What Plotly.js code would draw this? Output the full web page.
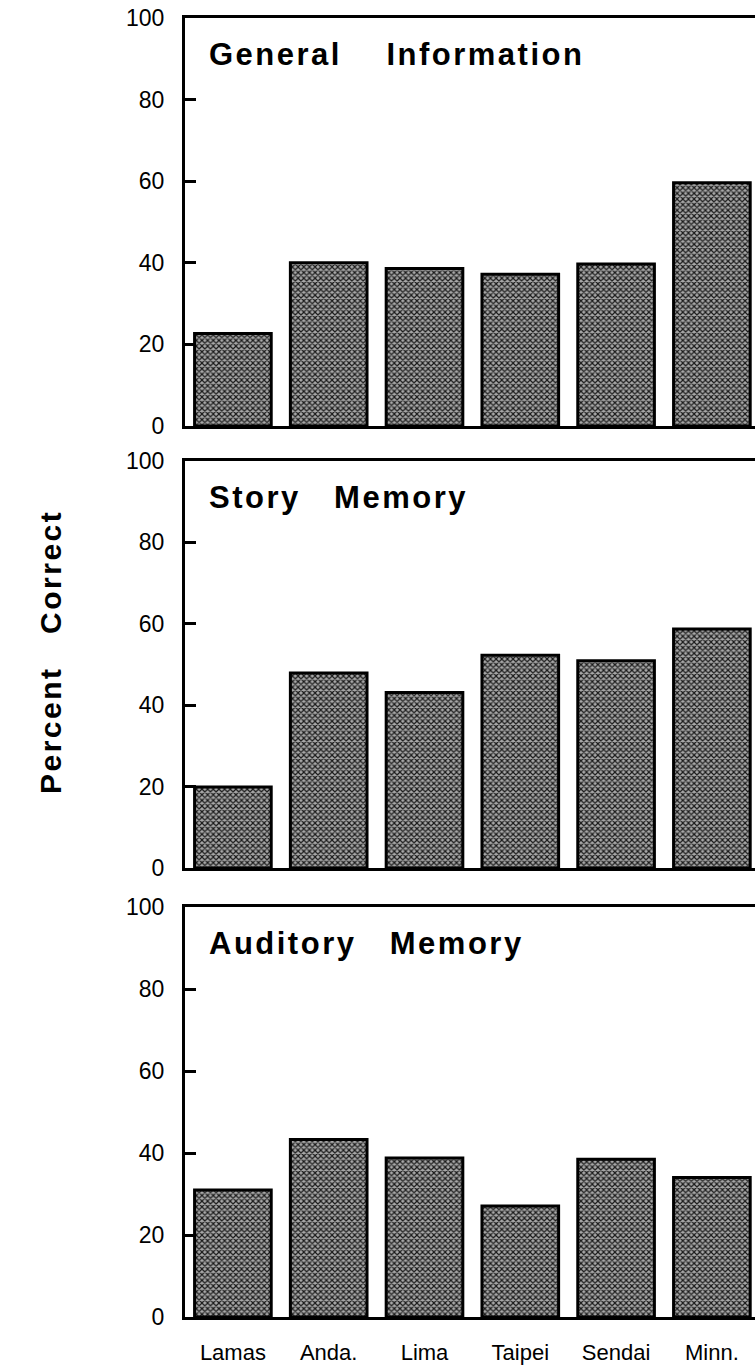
<!DOCTYPE html>
<html><head><meta charset="utf-8">
<script src="https://cdn.plot.ly/plotly-3.0.1.min.js"></script>
<style>
html,body{margin:0;padding:0;background:#fff;overflow:hidden}
.annotation-text{letter-spacing:2.5px}
</style></head>
<body><div id="chart" style="width:756px;height:1368px"></div>
<script>
const categories = ['Lamas', 'Anda.', 'Lima', 'Taipei', 'Sendai', 'Minn.'];
const generalInformation = [22.7, 40.0, 38.6, 37.2, 39.7, 59.6];
const storyMemory = [19.9, 47.9, 43.1, 52.3, 50.9, 58.7];
const auditoryMemory = [31.0, 43.3, 38.8, 27.1, 38.5, 34.0];
const panelTitles = ['General Information', 'Story Memory', 'Auditory Memory'];
const titleGaps = [4, 3, 3];
const yTickVals = [0, 20, 40, 60, 80, 100];
const yTickText = ['0', '20', '40', '60', '80', '100'];
const yAxisTitle = 'Percent Correct';

const series = [generalInformation, storyMemory, auditoryMemory];
const H = 1368;
const panelsPx = [[18, 426], [461, 868], [907, 1317]];

const barMarker = {
  color: '#9a9a9a',
  line: {color: '#000', width: 3},
  pattern: {shape: 'x', size: 4, solidity: 0.5, fgcolor: '#1a1a1a', bgcolor: '#a8a8a8', fillmode: 'replace'}
};

const traces = series.map((vals, i) => ({
  type: 'bar',
  x: categories,
  y: vals,
  xaxis: i === 0 ? 'x' : 'x' + (i + 1),
  yaxis: i === 0 ? 'y' : 'y' + (i + 1),
  marker: barMarker,
  width: 0.8,
  hoverinfo: 'skip',
  showlegend: false
}));

const layout = {
  width: 756, height: H,
  margin: {l: 185, r: 1, t: 0, b: 0},
  paper_bgcolor: '#fff', plot_bgcolor: '#fff',
  font: {family: 'Liberation Sans, Arial, sans-serif', color: '#000'},
  annotations: []
};

function gap(n) { return '&nbsp;'.repeat(n - 1) + ' '; }

series.forEach((vals, i) => {
  const xs = i === 0 ? 'xaxis' : 'xaxis' + (i + 1);
  const ys = i === 0 ? 'yaxis' : 'yaxis' + (i + 1);
  const yid = i === 0 ? 'y' : 'y' + (i + 1);
  const xid = i === 0 ? 'x' : 'x' + (i + 1);
  const [top, bot] = panelsPx[i];
  layout[xs] = {
    anchor: yid,
    type: 'category',
    range: [-0.5, 5.45],
    showline: true, linewidth: 3, linecolor: '#000', mirror: true,
    ticks: '', showgrid: false, zeroline: false,
    showticklabels: i === 2,
    tickfont: {size: 22, family: 'Liberation Sans, Arial, sans-serif'},
    ticklabelstandoff: 14,
    fixedrange: true
  };
  layout[ys] = {
    anchor: xid,
    domain: [1 - bot / H, 1 - top / H],
    range: [0, 100],
    tickvals: yTickVals, ticktext: yTickText,
    ticks: 'inside', ticklen: 11, tickwidth: 3, tickcolor: '#000',
    showline: true, linewidth: 3, linecolor: '#000', mirror: false,
    showgrid: false, zeroline: false,
    tickfont: {size: 23, family: 'Liberation Sans, Arial, sans-serif'},
    ticklabelstandoff: 13,
    fixedrange: true
  };
  layout.annotations.push({
    xref: xid + ' domain', yref: yid + ' domain',
    x: 22 / 570, y: 1 - 36 / (bot - top),
    xanchor: 'left', yanchor: 'middle',
    text: panelTitles[i].replace(' ', gap(titleGaps[i])),
    showarrow: false,
    font: {size: 31, family: 'Liberation Sans, Arial, sans-serif', weight: 'bold'}
  });
});

layout.annotations.push({
  xref: 'paper', yref: 'paper',
  x: -(185 - 50) / 570, y: 1 - 652 / H,
  xanchor: 'center', yanchor: 'middle',
  textangle: -90,
  text: yAxisTitle.replace(' ', gap(3)),
  showarrow: false,
  font: {size: 30, family: 'Liberation Sans, Arial, sans-serif', weight: 'bold'}
});

Plotly.newPlot('chart', traces, layout, {displayModeBar: false, staticPlot: true});
</script>
</body></html>
